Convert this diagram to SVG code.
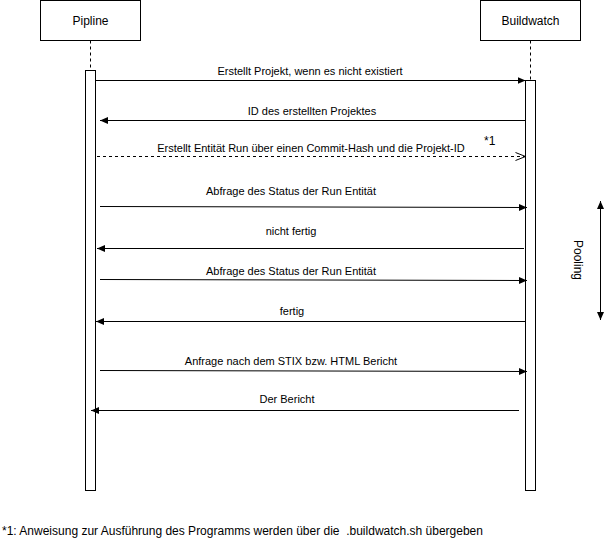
<svg xmlns="http://www.w3.org/2000/svg" width="610" height="541" viewBox="0 0 610 541">
<style>
.box{fill:#fff;stroke:#000;stroke-width:1}
.life{stroke:#000;stroke-width:1;stroke-dasharray:3 3;fill:none}
.msg{stroke:#000;stroke-width:1;fill:none}
.dash{stroke-dasharray:3 3}
text{font-family:"Liberation Sans",Arial,sans-serif;fill:#000}
.name{font-size:12px;text-anchor:middle}
.lbl{font-size:11px;text-anchor:middle}
</style>
<defs>
<marker id="blk" markerWidth="10" markerHeight="10" refX="8" refY="5" orient="auto" markerUnits="userSpaceOnUse">
<path d="M0,1.5 L8,5 L0,8.5 Z" fill="#000"/>
</marker>
<marker id="open" markerWidth="12" markerHeight="12" refX="11" refY="6" orient="auto" markerUnits="userSpaceOnUse">
<path d="M1,2 L11,6 L1,10" fill="none" stroke="#000"/>
</marker>
</defs>
<g id="pipline">
<line class="life" x1="90.5" y1="40.5" x2="90.5" y2="70"/>
<rect class="box" x="40.5" y="0.5" width="100" height="40"/>
<text class="name" x="90.5" y="25">Pipline</text>
<rect class="box" x="85.5" y="70.5" width="10" height="420"/>
</g>
<g id="buildwatch">
<line class="life" x1="530.5" y1="40.5" x2="530.5" y2="80"/>
<rect class="box" x="480.5" y="0.5" width="100" height="40"/>
<text class="name" x="530.5" y="25">Buildwatch</text>
<rect class="box" x="525.5" y="80.5" width="10" height="410"/>
</g>
<g id="connectors">
<line class="msg" x1="95.5" y1="80.5" x2="525.5" y2="80.5" marker-end="url(#blk)"/>
<line class="msg" x1="525.5" y1="120.5" x2="100" y2="120.5" marker-end="url(#blk)"/>
<line class="msg dash" x1="97" y1="156.5" x2="525.5" y2="156.5" marker-end="url(#open)"/>
<line class="msg" x1="100" y1="206.5" x2="527" y2="207.5" marker-end="url(#blk)"/>
<line class="msg" x1="524" y1="248.5" x2="97" y2="248.5" marker-end="url(#blk)"/>
<line class="msg" x1="100" y1="279.5" x2="527" y2="280.5" marker-end="url(#blk)"/>
<line class="msg" x1="525" y1="321.5" x2="96" y2="321.5" marker-end="url(#blk)"/>
<line class="msg" x1="100" y1="370.5" x2="527" y2="371.5" marker-end="url(#blk)"/>
<line class="msg" x1="519" y1="410.5" x2="91" y2="410.5" marker-end="url(#blk)"/>
<line class="msg" x1="600.5" y1="260" x2="600.5" y2="201" marker-end="url(#blk)"/>
<line class="msg" x1="600.5" y1="260" x2="600.5" y2="320" marker-end="url(#blk)"/>
</g>
<g id="labels">
<text class="lbl" x="310" y="75">Erstellt Projekt, wenn es nicht existiert</text>
<text class="lbl" x="312" y="115">ID des erstellten Projektes</text>
<text class="lbl" x="311" y="152">Erstellt Entität Run über einen Commit-Hash und die Projekt-ID</text>
<text x="484" y="145" style="font-size:12px">*1</text>
<text class="lbl" x="291" y="195">Abfrage des Status der Run Entität</text>
<text class="lbl" x="291" y="235">nicht fertig</text>
<text class="lbl" x="291" y="275">Abfrage des Status der Run Entität</text>
<text class="lbl" x="292" y="315">fertig</text>
<text class="lbl" x="291" y="365">Anfrage nach dem STIX bzw. HTML Bericht</text>
<text class="lbl" x="287" y="403">Der Bericht</text>
<text class="name" transform="translate(574,260) rotate(90)">Pooling</text>
<text x="2" y="535" style="font-size:12px;white-space:pre" xml:space="preserve">*1: Anweisung zur Ausführung des Programms werden über die  .buildwatch.sh übergeben</text>
</g>
</svg>
